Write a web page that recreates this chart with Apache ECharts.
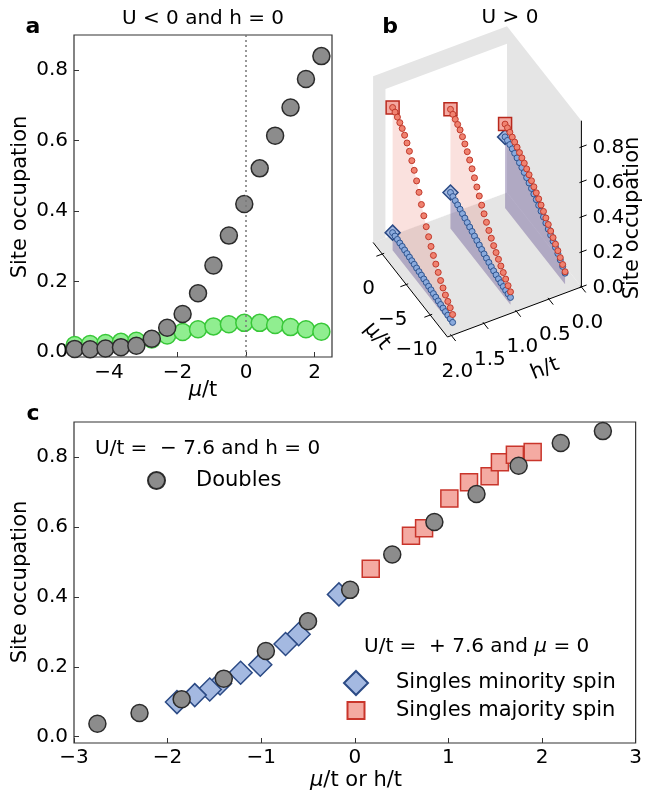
<!DOCTYPE html>
<html>
<head>
<meta charset="utf-8">
<title>Site occupation</title>
<script src="https://cdn.jsdelivr.net/npm/echarts@6.0.0/dist/echarts.min.js"></script>
<style>
  html, body { margin: 0; padding: 0; background: #fff; }
  #main { width: 645px; height: 792px; }
</style>
</head>
<body>
<div id="main"></div>
<script>
// ---- data ----
// doubles, U/t = -7.6, h = 0 (grey, panels a and c)
var muDoubles = [-5.0, -4.55, -4.1, -3.65, -3.2, -2.75, -2.3, -1.85, -1.4, -0.95, -0.5, -0.05, 0.4, 0.85, 1.3, 1.75, 2.2, 2.65];
var doubles = [0.008, 0.007, 0.009, 0.013, 0.017, 0.037, 0.068, 0.107, 0.166, 0.245, 0.330, 0.420, 0.521, 0.614, 0.694, 0.775, 0.840, 0.874];
// singles, U/t = -7.6, h = 0 (green, panel a)
var singlesA = [0.019, 0.022, 0.025, 0.028, 0.031, 0.035, 0.046, 0.056, 0.064, 0.072, 0.078, 0.082, 0.082, 0.076, 0.070, 0.064, 0.057];

// singles vs h, U/t = +7.6, mu = 0 (panel c: minority at -h, majority at +h)
var hField = [0.17, 0.60, 0.74, 1.01, 1.22, 1.44, 1.55, 1.71, 1.90];
var minority = [0.407, 0.293, 0.265, 0.206, 0.183, 0.152, 0.135, 0.119, 0.099];
var majority = [0.480, 0.575, 0.596, 0.681, 0.728, 0.745, 0.785, 0.806, 0.814];

// panel b: singles vs mu at three fields
var muB = [0, -0.5, -1, -1.5, -2, -2.5, -3, -3.5, -4, -4.5, -5, -5.5, -6, -6.5, -7, -7.5, -8, -8.5, -9, -9.5, -10, -10.5, -11, -11.5, -12, -12.5];
var hB = [1.90, 1.01, 0.17];
var majB_190 = [0.815, 0.806, 0.795, 0.781, 0.765, 0.744, 0.717, 0.687, 0.651, 0.613, 0.570, 0.522, 0.470, 0.423, 0.378, 0.338, 0.300, 0.266, 0.234, 0.204, 0.175, 0.150, 0.127, 0.108, 0.089, 0.068];
var minB_190 = [0.100, 0.098, 0.096, 0.093, 0.091, 0.088, 0.085, 0.082, 0.079, 0.076, 0.072, 0.069, 0.066, 0.062, 0.059, 0.055, 0.052, 0.048, 0.045, 0.041, 0.038, 0.035, 0.032, 0.029, 0.026, 0.023];
var majB_101 = [0.681, 0.670, 0.659, 0.647, 0.633, 0.612, 0.588, 0.561, 0.531, 0.498, 0.464, 0.429, 0.395, 0.360, 0.328, 0.297, 0.268, 0.241, 0.216, 0.194, 0.173, 0.152, 0.132, 0.112, 0.092, 0.074];
var minB_101 = [0.206, 0.200, 0.194, 0.187, 0.180, 0.172, 0.164, 0.156, 0.148, 0.140, 0.131, 0.123, 0.115, 0.107, 0.099, 0.092, 0.085, 0.078, 0.072, 0.066, 0.061, 0.056, 0.052, 0.048, 0.045, 0.042];
var majB_017 = [0.480, 0.476, 0.468, 0.458, 0.447, 0.435, 0.422, 0.409, 0.396, 0.381, 0.365, 0.348, 0.331, 0.314, 0.297, 0.279, 0.260, 0.240, 0.220, 0.200, 0.180, 0.160, 0.140, 0.118, 0.096, 0.072];
var minB_017 = [0.407, 0.404, 0.398, 0.391, 0.383, 0.374, 0.364, 0.354, 0.343, 0.331, 0.318, 0.304, 0.290, 0.275, 0.260, 0.244, 0.228, 0.211, 0.194, 0.177, 0.160, 0.142, 0.124, 0.105, 0.085, 0.064];

// tick labels
var muTicksA = [-4, -2, 0, 2];
var occTicks = [0, 0.2, 0.4, 0.6, 0.8];
var muTicksB = [0, -5, -10];
var hTicksB = [0, 0.5, 1.0, 1.5, 2.0];

var FONT = 'DejaVu Sans';
var GREY = '#8c8c8c', DARK = '#2b2b2b';

function minus(v) { return (v < 0 ? '\u2212' : '') + Math.abs(v); }
function pair(xs, ys) { return ys.map(function (y, i) { return [xs[i], y]; }); }

// ---- panel b: simple 3d view on a hidden pixel grid ----
var BOX = { mu: [-13.6, 1.9], h: [0, 2.06], z: [0, 0.95] };
var VIEW = { origin: [107.5, 337], mu: [-4.8, -6.1], h: [-65, 24.3], z: [0, -175] };
function project(mu, h, z) {
  var a = mu - BOX.mu[0], b = h - BOX.h[1], c = z - BOX.z[0];
  return [VIEW.origin[0] + a * VIEW.mu[0] + b * VIEW.h[0] + c * VIEW.z[0],
          VIEW.origin[1] + a * VIEW.mu[1] + b * VIEW.h[1] + c * VIEW.z[1]];
}
var m0 = BOX.mu[0], m1 = BOX.mu[1], h0 = BOX.h[0], h1 = BOX.h[1], z1 = BOX.z[1];
var PANE = '#e5e5e5';
var panes = [
  { fill: PANE, pts: [[m0, h1, 0], [m1, h1, 0], [m1, h0, 0], [m0, h0, 0]] },
  { fill: PANE, pts: [[m1, h1, 0], [m1, h1, z1], [m1, h0, z1], [m1, h0, 0]] },
  { fill: '#ffffff', pts: [[m1, 1.87, 0], [m1, 1.87, 0.85], [m1, h0, 0.85], [m1, h0, 0]] },
  { fill: PANE, pts: [[m0, h0, 0], [m0, h0, z1], [m1, h0, z1], [m1, h0, 0]] }
];
var PINK = 'rgba(230,105,90,0.2)', LAV = 'rgba(65,95,185,0.32)';
var curtains = [
  { h: hB[0], vals: majB_190, fill: PINK }, { h: hB[0], vals: minB_190, fill: LAV },
  { h: hB[1], vals: majB_101, fill: PINK }, { h: hB[1], vals: minB_101, fill: LAV },
  { h: hB[2], vals: majB_017, fill: PINK }, { h: hB[2], vals: minB_017, fill: LAV }
];
function curvePts(h, vals) { return muB.map(function (m, k) { return project(m, h, vals[k]); }); }

function renderPane(params, api) {
  var p = panes[params.dataIndex];
  return { type: 'polygon', shape: { points: p.pts.map(function (c) { return api.coord(project(c[0], c[1], c[2])); }) },
           style: { fill: p.fill } };
}
function renderCurtain(params, api) {
  var c = curtains[params.dataIndex];
  var pts = muB.map(function (m, k) { return api.coord(project(m, c.h, c.vals[k])); });
  pts.push(api.coord(project(muB[muB.length - 1], c.h, 0)));
  pts.push(api.coord(project(muB[0], c.h, 0)));
  return { type: 'polygon', shape: { points: pts }, style: { fill: c.fill } };
}
function renderAxesB(params, api) {
  var ch = [];
  function P(mu, h, z) { return api.coord(project(mu, h, z)); }
  function seg(a, b) {
    ch.push({ type: 'line', shape: { x1: a[0], y1: a[1], x2: b[0], y2: b[1] }, style: { stroke: '#000', lineWidth: 1 } });
  }
  function lab(p, dx, dy, s) {
    ch.push({ type: 'text', x: p[0] + dx, y: p[1] + dy,
      style: { text: s, fill: '#000', fontSize: 20, fontFamily: FONT, align: 'center', verticalAlign: 'middle',
               textAlign: 'center', textVerticalAlign: 'middle' } });
  }
  seg(P(m0, h1, 0), P(m1, h1, 0));
  seg(P(m0, h1, 0), P(m0, h0, 0));
  seg(P(m0, h0, 0), P(m0, h0, z1));
  muTicksB.forEach(function (v) {
    seg(P(v, h1 - 0.03, 0), P(v, h1 + 0.09, 0));
    lab(P(v, h1, 0), -13.5, 35, minus(v));
  });
  hTicksB.forEach(function (v) {
    seg(P(m0 + 0.2, v, 0), P(m0 - 0.9, v, 0));
    lab(P(m0, v, 0), 6, 36, v.toFixed(1));
  });
  occTicks.forEach(function (v) {
    seg(P(m0, h0 + 0.03, v), P(m0, h0 - 0.08, v));
    lab(P(m0, h0, v), 27, 1, v.toFixed(1));
  });
  return { type: 'group', children: ch };
}

function gtext(x, y, s, size, extra) {
  var e = { type: 'text', x: x, y: y,
    style: { text: s, fill: '#000', fontSize: size, fontFamily: FONT, align: 'center', verticalAlign: 'middle',
             textAlign: 'center', textVerticalAlign: 'middle' } };
  if (extra) {
    if (extra.rotation) e.rotation = extra.rotation;
    if (extra.bold) e.style.fontWeight = 'bold';
    if (extra.left) { e.style.align = 'left'; e.style.textAlign = 'left'; }
    if (extra.rich) e.style.rich = { i: { fontStyle: 'italic', fontSize: size, fontFamily: FONT, fill: '#000' } };
  }
  return e;
}

var chart = echarts.init(document.getElementById('main'));

var axisLabelStyle = { fontSize: 20, color: '#000', fontFamily: FONT };
var tickStyle = { inside: true, length: 5, lineStyle: { color: '#333', width: 1 } };
var noLine = { show: false, onZero: false };

var option = {
  animation: false,
  textStyle: { fontFamily: FONT },
  grid: [
    { left: 74, top: 35, width: 258, height: 322, show: true, borderColor: '#333', borderWidth: 1.2 },
    { left: 74, top: 422, width: 566, height: 321, show: true, borderColor: '#333', borderWidth: 1.2 },
    { left: 340, top: 0, width: 305, height: 400, show: false }
  ],
  xAxis: [
    { gridIndex: 0, type: 'value', min: -5.02, max: 2.51, axisLine: noLine, splitLine: { show: false },
      axisTick: Object.assign({ customValues: muTicksA }, tickStyle),
      axisLabel: Object.assign({ customValues: muTicksA, formatter: minus, margin: 6 }, axisLabelStyle) },
    { gridIndex: 1, type: 'value', min: -3, max: 3, interval: 1, axisLine: noLine, splitLine: { show: false },
      axisTick: tickStyle,
      axisLabel: Object.assign({ formatter: minus, margin: 5 }, axisLabelStyle) },
    { gridIndex: 2, type: 'value', min: 0, max: 305, show: false }
  ],
  yAxis: [
    { gridIndex: 0, type: 'value', min: -0.015, max: 0.9, axisLine: noLine, splitLine: { show: false },
      axisTick: Object.assign({ customValues: occTicks }, tickStyle),
      axisLabel: Object.assign({ customValues: occTicks, formatter: function (v) { return v.toFixed(1); }, margin: 6 }, axisLabelStyle) },
    { gridIndex: 1, type: 'value', min: -0.018, max: 0.9, axisLine: noLine, splitLine: { show: false },
      axisTick: Object.assign({ customValues: occTicks }, tickStyle),
      axisLabel: Object.assign({ customValues: occTicks, formatter: function (v) { return v.toFixed(1); }, margin: 6 }, axisLabelStyle) },
    { gridIndex: 2, type: 'value', min: 0, max: 400, inverse: true, show: false }
  ],
  legend: [
    { data: ['Doubles'], left: 147, top: 470, padding: 0, itemWidth: 17, itemHeight: 17, selectedMode: false,
      textStyle: { fontSize: 21, color: '#000', fontFamily: FONT, padding: [0, 0, 0, 26] } },
    { data: ['Singles minority spin'], left: 343, top: 670, padding: 0, itemWidth: 24, itemHeight: 24, selectedMode: false,
      textStyle: { fontSize: 21, color: '#000', fontFamily: FONT, padding: [0, 0, 0, 23] } },
    { data: ['Singles majority spin'], left: 346.5, top: 700, padding: 0, itemWidth: 17, itemHeight: 17, selectedMode: false,
      textStyle: { fontSize: 21, color: '#000', fontFamily: FONT, padding: [0, 0, 0, 26.5] } }
  ],
  graphic: { elements: [
    gtext(33, 27, 'a', 22, { bold: true }),
    gtext(203, 19, 'U < 0 and h = 0', 20),
    gtext(390, 27, 'b', 22, { bold: true }),
    gtext(510, 18, 'U > 0', 20),
    gtext(33, 414, 'c', 22, { bold: true }),
    gtext(21, 197, 'Site occupation', 21, { rotation: Math.PI / 2 }),
    gtext(203, 391, '{i|\u03bc}/t', 21, { rich: true }),
    gtext(21, 582, 'Site occupation', 21, { rotation: Math.PI / 2 }),
    gtext(356, 781, '{i|\u03bc}/t or h/t', 21, { rich: true }),
    gtext(633, 218, 'Site occupation', 21, { rotation: Math.PI / 2 }),
    gtext(377, 336, '\u03bc/t', 21, { rotation: -50 * Math.PI / 180 }),
    gtext(545, 369, 'h/t', 21, { rotation: 22 * Math.PI / 180 }),
    gtext(95, 449, 'U/t =  \u2212 7.6 and h = 0', 20, { left: true }),
    gtext(364, 647, 'U/t =  + 7.6 and {i|\u03bc} = 0', 20, { left: true, rich: true })
  ] },
  series: [
    // panel a
    { name: 'zero', type: 'scatter', xAxisIndex: 0, yAxisIndex: 0, data: [], z: 1, silent: true,
      markLine: { silent: true, symbol: 'none', label: { show: false },
        lineStyle: { type: [2, 3], color: '#777', width: 1.5 }, data: [{ xAxis: 0 }] } },
    { name: 'Singles (a)', type: 'scatter', xAxisIndex: 0, yAxisIndex: 0, z: 2, silent: true, symbolSize: 17,
      itemStyle: { color: '#90ee90', borderColor: '#38c838', borderWidth: 1.5, opacity: 1 },
      data: pair(muDoubles, singlesA) },
    { name: 'Doubles (a)', type: 'scatter', xAxisIndex: 0, yAxisIndex: 0, z: 3, silent: true, symbolSize: 17,
      itemStyle: { color: GREY, borderColor: DARK, borderWidth: 1.5, opacity: 1 },
      data: pair(muDoubles, doubles) },

    // panel c
    { name: 'Singles minority spin', type: 'scatter', xAxisIndex: 1, yAxisIndex: 1, z: 2, silent: true,
      symbol: 'diamond', symbolSize: 23,
      itemStyle: { color: '#a4b9e1', borderColor: '#2b4a85', borderWidth: 1.5, opacity: 1 },
      data: hField.map(function (h, i) { return [-h, minority[i]]; }) },
    { name: 'Singles majority spin', type: 'scatter', xAxisIndex: 1, yAxisIndex: 1, z: 2, silent: true,
      symbol: 'rect', symbolSize: 17,
      itemStyle: { color: '#f4aaa2', borderColor: '#c9352b', borderWidth: 1.5, opacity: 1 },
      data: pair(hField, majority) },
    { name: 'Doubles', type: 'scatter', xAxisIndex: 1, yAxisIndex: 1, z: 3, silent: true, symbolSize: 17,
      itemStyle: { color: GREY, borderColor: DARK, borderWidth: 1.5, opacity: 1 },
      data: pair(muDoubles, doubles) },

    // panel b
    { name: 'panes', type: 'custom', xAxisIndex: 2, yAxisIndex: 2, silent: true, clip: false, z: 1,
      renderItem: renderPane, data: panes.map(function (p, i) { return [i, 0]; }) },
    { name: 'axes b', type: 'custom', xAxisIndex: 2, yAxisIndex: 2, silent: true, clip: false, z: 2,
      renderItem: renderAxesB, data: [[0, 0]] },
    { name: 'curtains', type: 'custom', xAxisIndex: 2, yAxisIndex: 2, silent: true, clip: false, z: 3,
      renderItem: renderCurtain, data: curtains.map(function (c, i) { return [i, 0]; }) },
    { name: 'b minority mu0', type: 'scatter', xAxisIndex: 2, yAxisIndex: 2, silent: true, clip: false, z: 4,
      symbol: 'diamond', symbolSize: 15,
      itemStyle: { color: '#a4b9e1', borderColor: '#2b4a85', borderWidth: 1.5, opacity: 1 },
      data: [project(0, hB[0], minB_190[0]), project(0, hB[1], minB_101[0]), project(0, hB[2], minB_017[0])] },
    { name: 'b majority mu0', type: 'scatter', xAxisIndex: 2, yAxisIndex: 2, silent: true, clip: false, z: 4,
      symbol: 'rect', symbolSize: 13,
      itemStyle: { color: '#f4aaa2', borderColor: '#b8281c', borderWidth: 1.5, opacity: 1 },
      data: [project(0, hB[0], majB_190[0]), project(0, hB[1], majB_101[0]), project(0, hB[2], majB_017[0])] },
    { name: 'b minority', type: 'scatter', xAxisIndex: 2, yAxisIndex: 2, silent: true, clip: false, z: 5,
      symbolSize: 6,
      itemStyle: { color: '#8aaadd', borderColor: '#2f548f', borderWidth: 1, opacity: 1 },
      data: [].concat(curvePts(hB[2], minB_017), curvePts(hB[1], minB_101), curvePts(hB[0], minB_190)) },
    { name: 'b majority', type: 'scatter', xAxisIndex: 2, yAxisIndex: 2, silent: true, clip: false, z: 6,
      symbolSize: 6,
      itemStyle: { color: '#f08270', borderColor: '#c0392b', borderWidth: 1, opacity: 1 },
      data: [].concat(curvePts(hB[2], majB_017), curvePts(hB[1], majB_101), curvePts(hB[0], majB_190)) }
  ]
};

chart.setOption(option);
</script>
</body>
</html>
